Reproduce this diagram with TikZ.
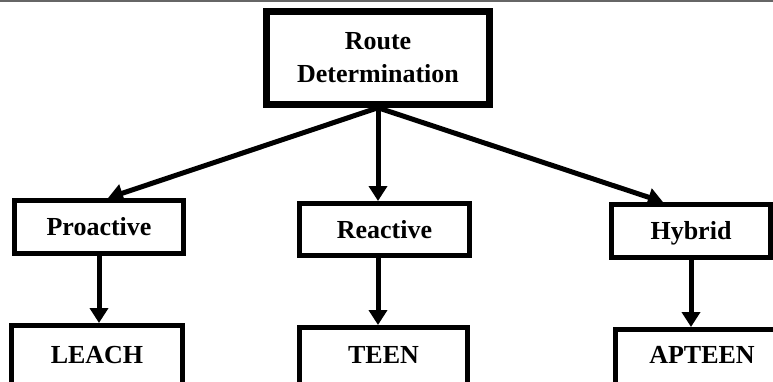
\documentclass[tikz,border=0pt]{standalone}
\usepackage{fontspec}
\setmainfont{Liberation Serif}
\usetikzlibrary{arrows.meta}
\begin{document}
\begin{tikzpicture}[x=1pt, y=-1pt,
  box/.style={draw, rectangle, line width=5pt, inner sep=0pt,
    font=\fontsize{26}{33}\selectfont\bfseries},
  lbl/.style={box, text height=17pt, text depth=0pt},
  leaf/.style={box, text height=17pt, text depth=31pt},
  link/.style={line width=5pt, -{Triangle[length=15pt,width=18pt]}}]
\useasboundingbox (0,0) rectangle (773,381);
% thin rule along the top edge
\draw[black!60, line width=2pt] (0,1) -- (773,1);

% root of the taxonomy
\node[box, line width=6.5pt, minimum width=223pt, minimum height=93pt,
      align=center] (root) at (378,58) {Route\\Determination};

% routing classes
\node[lbl, minimum width=169pt, minimum height=53pt] (pro) at (99,227) {Proactive};
\node[lbl, minimum width=170pt, minimum height=52pt] (rea) at (384.5,229.5) {Reactive};
\node[lbl, minimum width=159pt, minimum height=53pt] (hyb) at (691,231) {Hybrid};

% example protocols (boxes run past the lower edge)
\node[leaf, minimum width=171pt, minimum height=89pt] (leach) at (97,370) {LEACH};
\node[leaf, minimum width=168pt, minimum height=85pt] (teen) at (383.5,370) {TEEN};
\node[leaf, minimum width=173pt, minimum height=81pt] (apteen) at (702,370) {APTEEN};

% connectors
\draw[link] (root.south) -- ([xshift=9pt]pro.north);
\draw[link] (root.south) -- (root.south |- rea.north);
\draw[link] (root.south) -- ([xshift=-28pt]hyb.north);
\draw[link] (pro.south) -- (pro.south |- leach.north);
\draw[link] (root.south |- rea.south) -- (root.south |- teen.north);
\draw[link] (hyb.south) -- (hyb.south |- apteen.north);
\end{tikzpicture}
\end{document}
